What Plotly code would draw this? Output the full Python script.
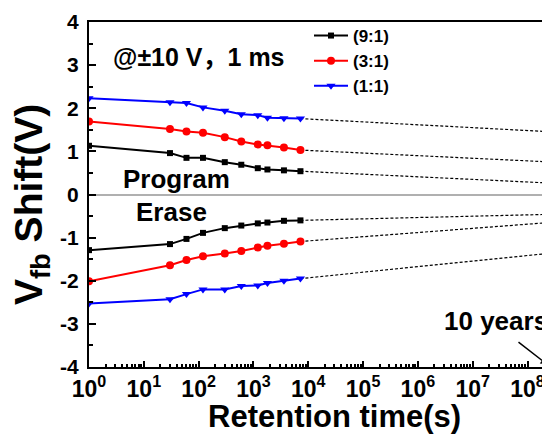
import plotly.graph_objects as go

# ---- data ----
t_meas = [1, 30, 60, 120, 300, 600, 1200, 1800, 3600, 7200]
prog_91 = [1.13, 0.96, 0.85, 0.85, 0.75, 0.69, 0.61, 0.58, 0.56, 0.54]
prog_31 = [1.69, 1.52, 1.46, 1.43, 1.33, 1.23, 1.16, 1.14, 1.09, 1.03]
prog_11 = [2.23, 2.14, 2.12, 2.02, 1.94, 1.86, 1.84, 1.78, 1.77, 1.76]
erase_91 = [-1.29, -1.15, -1.03, -0.89, -0.78, -0.72, -0.67, -0.65, -0.61, -0.60]
erase_31 = [-2.01, -1.64, -1.52, -1.43, -1.37, -1.31, -1.23, -1.19, -1.14, -1.09]
erase_11 = [-2.53, -2.43, -2.31, -2.20, -2.20, -2.12, -2.11, -2.05, -2.00, -1.95]

t_extrap = [7200, 3.15e8]
ext_prog_91 = [0.54, 0.26]
ext_prog_31 = [1.03, 0.75]
ext_prog_11 = [1.76, 1.45]
ext_erase_91 = [-0.60, -0.457]
ext_erase_31 = [-1.09, -0.64]
ext_erase_11 = [-1.95, -1.35]

series_names = ["(9:1)", "(3:1)", "(1:1)"]
colors = ["#000000", "#ff0000", "#0000ff"]
symbols = ["square", "circle", "triangle-down"]
sizes = [6, 8, 8]

x_tickvals = [10 ** k for k in range(0, 9)]
x_ticktext = ["10<sup>%d</sup>" % k for k in range(0, 9)]
y_tickvals = [-4, -3, -2, -1, 0, 1, 2, 3, 4]
y_ticktext = ["-4", "-3", "-2", "-1", "0", "1", "2", "3", "4"]

FONT = "Liberation Sans, Arial, Noto Sans CJK SC, sans-serif"

fig = go.Figure()

prog = [prog_91, prog_31, prog_11]
erase = [erase_91, erase_31, erase_11]
ext_p = [ext_prog_91, ext_prog_31, ext_prog_11]
ext_e = [ext_erase_91, ext_erase_31, ext_erase_11]

# extrapolation dotted lines
for i in range(3):
    for ys in (ext_p[i], ext_e[i]):
        fig.add_trace(go.Scatter(x=t_extrap, y=ys, mode="lines",
                                 line=dict(color="black", width=1.2, dash="3px,2px"),
                                 showlegend=False, hoverinfo="skip"))

for i in range(3):
    fig.add_trace(go.Scatter(x=t_meas, y=prog[i], mode="lines+markers", name=series_names[i],
                             legendgroup=series_names[i],
                             line=dict(color=colors[i], width=2),
                             marker=dict(symbol=symbols[i], size=sizes[i], color=colors[i])))
    fig.add_trace(go.Scatter(x=t_meas, y=erase[i], mode="lines+markers", name=series_names[i],
                             legendgroup=series_names[i], showlegend=False,
                             line=dict(color=colors[i], width=2),
                             marker=dict(symbol=symbols[i], size=sizes[i], color=colors[i])))

# page body has an 8px margin: work in screen pixels and convert
OFF = 8
W, H = 550, 441
S_L, S_R, S_T, S_B = 89, 550, 22, 367   # plot area on screen
L = S_L - OFF
T = S_T - OFF
R = W - (S_R - OFF)
B = H - (S_B - OFF)
pw = S_R - S_L
ph = S_B - S_T

def px(xs):
    return (xs - S_L) / pw

def py(ys):
    return (S_B - ys) / ph

minor_x = [m * 10 ** k for k in range(0, 9) for m in range(2, 10)]
minor_y = [v + 0.5 for v in range(-4, 4)]

fig.update_layout(
    width=W, height=H,
    margin=dict(l=L, r=R, t=T, b=B, autoexpand=False),
    paper_bgcolor="white", plot_bgcolor="white",
    font=dict(family=FONT, size=16, color="black", weight="bold"),
    showlegend=True,
    legend=dict(x=px(309), y=py(18), xanchor="left", yanchor="top",
                bgcolor="rgba(0,0,0,0)", borderwidth=0,
                font=dict(family=FONT, size=17, color="black", weight="bold"),
                tracegroupgap=0, itemwidth=34),
    xaxis=dict(type="log", range=[0, 8.41],
               tickmode="array", tickvals=x_tickvals, ticktext=x_ticktext,
               ticks="inside", ticklen=6, tickwidth=2, tickcolor="black",
               minor=dict(tickmode="array", tickvals=minor_x, ticks="inside", ticklen=3,
                          tickwidth=1.5, tickcolor="black"),
               showline=True, linecolor="black", linewidth=2, mirror=True,
               showgrid=False, zeroline=False,
               tickfont=dict(family=FONT, size=23, color="black", weight="bold")),
    yaxis=dict(range=[-4, 4],
               tickmode="array", tickvals=y_tickvals, ticktext=y_ticktext,
               ticks="inside", ticklen=7, tickwidth=2, tickcolor="black",
               minor=dict(tickmode="array", tickvals=minor_y, ticks="inside", ticklen=4,
                          tickwidth=1.5, tickcolor="black"),
               showline=True, linecolor="black", linewidth=2, mirror=False,
               showgrid=False, zeroline=True, zerolinecolor="#b0b0b0", zerolinewidth=1.5,
               ticklabelstandoff=4,
               tickfont=dict(family=FONT, size=21, color="black", weight="bold")),
)

ann_font = lambda s: dict(family=FONT, size=s, color="black", weight="bold")

fig.add_annotation(xref="paper", yref="paper", x=px(334), y=py(416),
                   text="Retention time(s)", showarrow=False,
                   font=ann_font(31), xanchor="center", yanchor="middle")
fig.add_annotation(xref="paper", yref="paper", x=px(31), y=py(205),
                   text="V<sub>fb</sub> Shift(V)", showarrow=False, textangle=-90,
                   font=ann_font(39), xanchor="center", yanchor="middle")
fig.add_annotation(xref="paper", yref="paper", x=px(199), y=py(57),
                   text="@±10 V，1 ms", showarrow=False,
                   font=ann_font(25), xanchor="center", yanchor="middle")
fig.add_annotation(xref="paper", yref="paper", x=px(176), y=py(179),
                   text="Program", showarrow=False,
                   font=ann_font(26), xanchor="center", yanchor="middle")
fig.add_annotation(xref="paper", yref="paper", x=px(171), y=py(212),
                   text="Erase", showarrow=False,
                   font=ann_font(26), xanchor="center", yanchor="middle")
fig.add_annotation(xref="paper", yref="paper", x=px(442), y=py(321),
                   text="10 years", showarrow=False,
                   font=ann_font(26), xanchor="left", yanchor="middle")
fig.add_annotation(xref="paper", yref="paper", x=px(548), y=py(365),
                   ax=-31, ay=-24, text="", showarrow=True,
                   arrowhead=2, arrowsize=1, arrowwidth=1.5, arrowcolor="black")

fig.write_html("out.html")
